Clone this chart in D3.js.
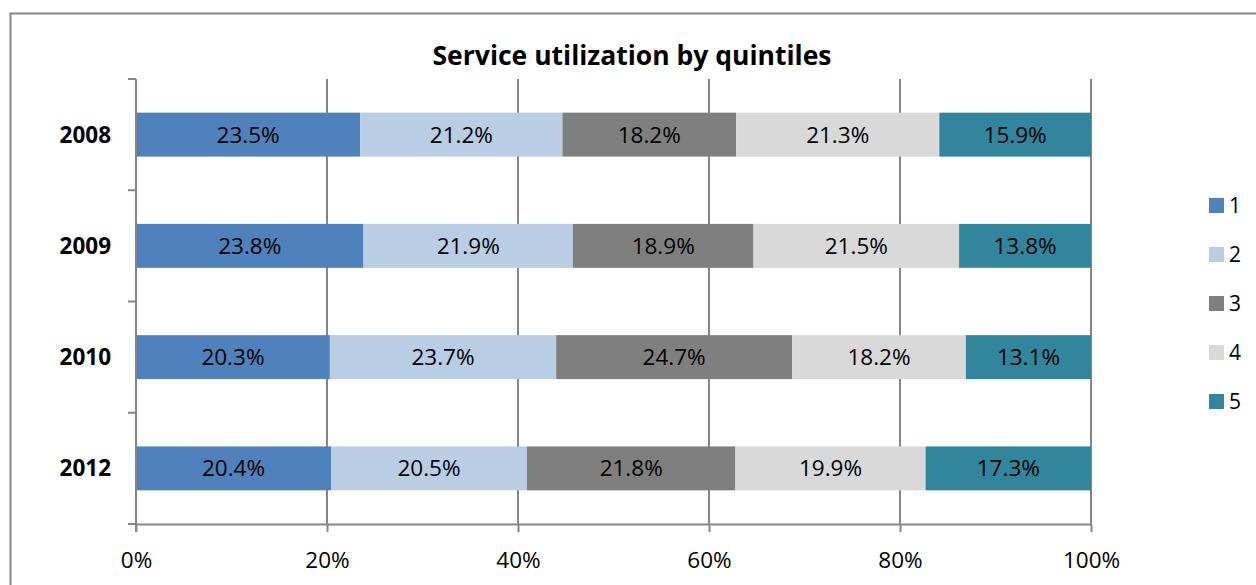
<!DOCTYPE html>
<html>
<head>
<meta charset="utf-8">
<script src="https://cdn.jsdelivr.net/npm/d3@7/dist/d3.min.js"></script>
<style>
  html, body { margin: 0; padding: 0; background: #fff; }
  svg { display: block; font-family: "Open Sans", "Liberation Sans", sans-serif; }
</style>
</head>
<body>
<svg id="chart" width="1256" height="585"></svg>
<script>
// Share of service utilization by income quintile, per year
const years = ["2008", "2009", "2010", "2012"];
const quintiles = ["1", "2", "3", "4", "5"];
const q1 = [23.5, 23.8, 20.3, 20.4];
const q2 = [21.2, 21.9, 23.7, 20.5];
const q3 = [18.2, 18.9, 24.7, 21.8];
const q4 = [21.3, 21.5, 18.2, 19.9];
const q5 = [15.9, 13.8, 13.1, 17.3];
const xTickValues = [0, 0.2, 0.4, 0.6, 0.8, 1];
const colors = ["#4F81BD", "#B9CDE5", "#7F7F7F", "#D9D9D9", "#31859C"];
const titleText = "Service utilization by quintiles";

const series = [q1, q2, q3, q4, q5];
const rows = years.map((y, i) => {
  const r = { year: y };
  quintiles.forEach((q, k) => { r[q] = series[k][i]; });
  return r;
});

const svg = d3.select("#chart");
const W = 1256, H = 585;
const m = { left: 136, right: 165, top: 79, bottom: 61 };
const plotW = W - m.left - m.right;   // 955
const plotH = H - m.top - m.bottom;   // 445
const labelSize = 22.5;

// outer chart frame
svg.append("rect")
  .attr("x", 10.5).attr("y", 13.5)
  .attr("width", 1260).attr("height", 600)
  .attr("fill", "none").attr("stroke", "#868686").attr("stroke-width", 2);

svg.append("text")
  .attr("x", 632).attr("y", 65)
  .attr("text-anchor", "middle")
  .attr("font-weight", "bold")
  .attr("font-size", 26.5)
  .attr("fill", "#000")
  .text(titleText);

const g = svg.append("g").attr("transform", `translate(${m.left},${m.top})`);

const x = d3.scaleLinear().domain([0, 1]).range([0, plotW]);
const y = d3.scaleBand().domain(years).range([0, plotH]).paddingInner(0.605).paddingOuter(0.3025);
const color = d3.scaleOrdinal().domain(quintiles).range(colors);

const stack = d3.stack().keys(quintiles).offset(d3.stackOffsetExpand);
const stacked = stack(rows);

// vertical gridlines
g.append("g").selectAll("line")
  .data(xTickValues.slice(1))
  .join("line")
  .attr("x1", d => x(d)).attr("x2", d => x(d))
  .attr("y1", 0).attr("y2", plotH)
  .attr("stroke", "#868686").attr("stroke-width", 2);

// stacked bars
const layer = g.append("g").selectAll("g")
  .data(stacked)
  .join("g")
  .attr("fill", d => color(d.key));

layer.selectAll("rect")
  .data(d => d.map(p => ({ key: d.key, p })))
  .join("rect")
  .attr("x", d => x(d.p[0]))
  .attr("y", d => y(d.p.data.year))
  .attr("width", d => x(d.p[1]) - x(d.p[0]))
  .attr("height", y.bandwidth());

// value labels
layer.selectAll("text")
  .data(d => d.map(p => ({ key: d.key, p })))
  .join("text")
  .attr("x", d => (x(d.p[0]) + x(d.p[1])) / 2)
  .attr("y", d => y(d.p.data.year) + y.bandwidth() / 2)
  .attr("dy", "0.36em")
  .attr("text-anchor", "middle")
  .attr("font-size", labelSize)
  .attr("fill", "#000")
  .text(d => d.p.data[d.key].toFixed(1) + "%");

// x axis
const xAxis = g.append("g")
  .attr("transform", `translate(0,${plotH})`)
  .call(d3.axisBottom(x).tickValues(xTickValues).tickFormat(d3.format(".0%")).tickSize(8).tickSizeOuter(0));
xAxis.select(".domain").attr("stroke", "#868686").attr("stroke-width", 2);
xAxis.selectAll(".tick line").attr("stroke", "#868686").attr("stroke-width", 2);
xAxis.selectAll(".tick text")
  .attr("font-size", labelSize).attr("fill", "#000")
  .attr("font-family", "'Open Sans', 'Liberation Sans', sans-serif")
  .attr("y", 36).attr("dy", "0.36em");

// y axis: ticks sit between categories
const yAxisG = g.append("g");
yAxisG.append("line")
  .attr("x1", 0).attr("x2", 0).attr("y1", 0).attr("y2", plotH + 8)
  .attr("stroke", "#868686").attr("stroke-width", 2);
const boundaries = d3.range(years.length + 1).map(i => i * plotH / years.length);
yAxisG.selectAll(".ytick")
  .data(boundaries)
  .join("line")
  .attr("class", "ytick")
  .attr("x1", -8).attr("x2", 0)
  .attr("y1", d => d).attr("y2", d => d)
  .attr("stroke", "#868686").attr("stroke-width", 2);
yAxisG.selectAll(".ylabel")
  .data(years)
  .join("text")
  .attr("class", "ylabel")
  .attr("x", -25)
  .attr("y", d => y(d) + y.bandwidth() / 2)
  .attr("dy", "0.36em")
  .attr("text-anchor", "end")
  .attr("font-size", labelSize)
  .attr("font-weight", "bold")
  .attr("fill", "#000")
  .text(d => d);

// legend
const legend = svg.append("g").attr("transform", "translate(1209,198)");
const item = legend.selectAll("g")
  .data(quintiles)
  .join("g")
  .attr("transform", (d, i) => `translate(0,${i * 49})`);
item.append("rect")
  .attr("width", 15).attr("height", 15)
  .attr("fill", d => color(d));
item.append("text")
  .attr("x", 20).attr("y", 7.5).attr("dy", "0.36em")
  .attr("font-size", 21).attr("fill", "#000")
  .text(d => d);
</script>
</body>
</html>
